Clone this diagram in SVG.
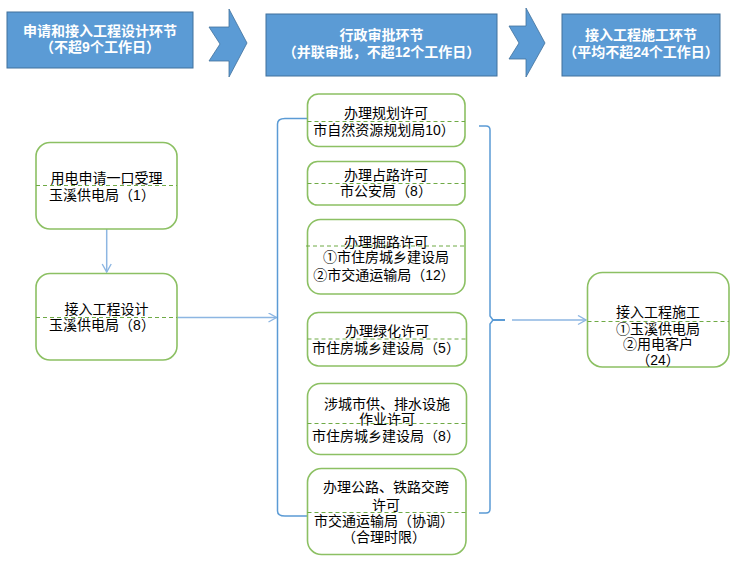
<svg xmlns="http://www.w3.org/2000/svg" width="742" height="565" viewBox="0 0 742 565">
<defs>
<style>
.hdr{fill:#5B9BD5;stroke:#41719C;stroke-width:1}
.chev{fill:#5B9BD5;stroke:#41719C;stroke-width:0.8}
.ht{font-family:"Liberation Sans","Noto Sans CJK SC",sans-serif;font-size:14px;font-weight:bold;fill:#fff;text-anchor:middle}
.nd{fill:#fff;stroke:#8CC063;stroke-width:1.6}
.dl{stroke:#6FAA45;stroke-width:1;stroke-dasharray:4,3;fill:none}
.t{font-family:"Liberation Sans","Noto Sans CJK SC",sans-serif;font-size:14px;fill:#000;text-anchor:middle}
.cn{stroke:#8DB6E2;stroke-width:1.5;fill:none}
.br{stroke:#5B9BD5;stroke-width:1.5;fill:none}
</style>
<marker id="ah" markerUnits="userSpaceOnUse" markerWidth="12" markerHeight="12" refX="9" refY="5" orient="auto">
<path d="M1,0.5 L9,5 L1,9.5" fill="none" stroke="#8DB6E2" stroke-width="1.4"/>
</marker>
</defs>
<rect width="742" height="565" fill="#fff"/>

<g id="header1">
<rect class="hdr" x="7" y="12" width="186" height="56"/>
<text class="ht"><tspan x="100" y="36">申请和接入工程设计环节</tspan><tspan x="100" y="52">（不超9个工作日）</tspan></text>
</g>
<g id="chevron1">
<polygon class="chev" points="209,27 229,27 229,9 247,43 229,77 229,61 209,61 220,44"/>
</g>
<g id="header2">
<rect class="hdr" x="266" y="14" width="231" height="62"/>
<text class="ht"><tspan x="381.5" y="40">行政审批环节</tspan><tspan x="381.5" y="57">（并联审批，不超12个工作日）</tspan></text>
</g>
<g id="chevron2">
<polygon class="chev" points="509,26 526,26 526,8 545,43 526,77 526,59 509,59 519,43"/>
</g>
<g id="header3">
<rect class="hdr" x="562" y="14" width="158" height="62"/>
<text class="ht"><tspan x="641" y="40">接入工程施工环节</tspan><tspan x="641" y="57">（平均不超24个工作日）</tspan></text>
</g>

<g id="connectors">
<line class="cn" x1="106.7" y1="229" x2="106.7" y2="272" marker-end="url(#ah)"/>
<line class="cn" x1="177" y1="317.5" x2="276.5" y2="317.5" marker-end="url(#ah)"/>
<path class="br" d="M307,118.5 L285,118.5 Q277.5,118.5 277.5,124 L277.5,511 Q277.5,516 285,516 L307,516"/>
<path class="br" d="M479,126 L486,126 Q490,126 490,130 L490,316 L493,320 L490,324 L490,509 Q490,513 486,513 L479,513"/>
<line x1="493" y1="320" x2="505" y2="320" stroke="#5B9BD5" stroke-width="2"/>
<line class="cn" x1="512" y1="320" x2="586" y2="320" marker-end="url(#ah)"/>
</g>

<g id="nodeA">
<rect class="nd" x="36" y="142.5" width="141" height="86.5" rx="14"/>
<line class="dl" x1="36" y1="185.5" x2="177" y2="185.5"/>
<text class="t"><tspan x="106.5" y="183">用电申请一口受理</tspan><tspan x="102" y="200">玉溪供电局（1）</tspan></text>
</g>
<g id="nodeB">
<rect class="nd" x="36" y="273.5" width="141" height="86.5" rx="14"/>
<line class="dl" x1="36" y1="317.5" x2="177" y2="317.5"/>
<text class="t"><tspan x="106.5" y="313.5">接入工程设计</tspan><tspan x="102" y="330">玉溪供电局（8）</tspan></text>
</g>

<g id="m1">
<rect class="nd" x="307.5" y="94" width="157.5" height="52.5" rx="11"/>
<line class="dl" x1="307.5" y1="121.5" x2="465" y2="121.5"/>
<text class="t"><tspan x="386" y="118">办理规划许可</tspan><tspan x="384" y="134.5">市自然资源规划局10）</tspan></text>
</g>
<g id="m2">
<rect class="nd" x="307.5" y="161.5" width="157.5" height="43.5" rx="10"/>
<line class="dl" x1="307.5" y1="183.5" x2="465" y2="183.5"/>
<text class="t"><tspan x="386" y="180">办理占路许可</tspan><tspan x="386" y="196">市公安局（8）</tspan></text>
</g>
<g id="m3">
<rect class="nd" x="307.5" y="219.5" width="157.5" height="74.5" rx="13"/>
<line class="dl" x1="306" y1="246" x2="465" y2="246"/>
<text class="t"><tspan x="386" y="247">办理掘路许可</tspan><tspan x="386" y="262">①市住房城乡建设局</tspan><tspan x="384" y="279.5">②市交通运输局（12）</tspan></text>
</g>
<g id="m4">
<rect class="nd" x="307.5" y="312.5" width="159" height="53.5" rx="11"/>
<line class="dl" x1="307.5" y1="339" x2="466.5" y2="339"/>
<text class="t"><tspan x="387" y="336">办理绿化许可</tspan><tspan x="386" y="353">市住房城乡建设局（5）</tspan></text>
</g>
<g id="m5">
<rect class="nd" x="307.5" y="383.5" width="159" height="71" rx="13"/>
<line class="dl" x1="307.5" y1="423.5" x2="466.5" y2="423.5"/>
<text class="t"><tspan x="387" y="408.5">涉城市供、排水设施</tspan><tspan x="387" y="423.5">作业许可</tspan><tspan x="386" y="441">市住房城乡建设局（8）</tspan></text>
</g>
<g id="m6">
<rect class="nd" x="307.5" y="468.5" width="158.5" height="86" rx="14"/>
<line class="dl" x1="307.5" y1="512.5" x2="466" y2="512.5"/>
<text class="t"><tspan x="386" y="492">办理公路、铁路交跨</tspan><tspan x="386" y="509.5">许可</tspan><tspan x="384" y="526">市交通运输局（协调）</tspan><tspan x="384" y="542">（合理时限）</tspan></text>
</g>

<g id="nodeR">
<rect class="nd" x="587.5" y="272.5" width="141.5" height="94.5" rx="15"/>
<line class="dl" x1="587.5" y1="321.5" x2="729" y2="321.5"/>
<text class="t"><tspan x="658" y="316.5">接入工程施工</tspan><tspan x="658" y="333.5">①玉溪供电局</tspan><tspan x="658" y="349.3">②用电客户</tspan><tspan x="658" y="365">（24）</tspan></text>
</g>
</svg>
